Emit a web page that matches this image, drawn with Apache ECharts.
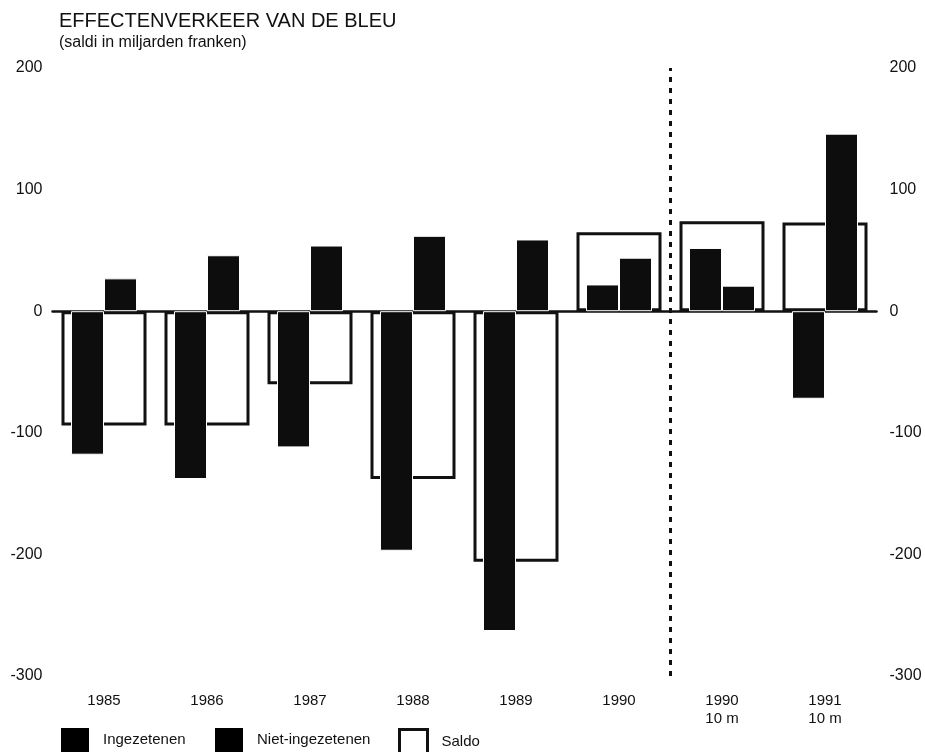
<!DOCTYPE html>
<html>
<head>
<meta charset="utf-8">
<script src="https://cdn.jsdelivr.net/npm/echarts@6/dist/echarts.min.js"></script>
<style>
  html, body { margin: 0; padding: 0; background: #fff; }
  #chart { width: 925px; height: 752px; }
</style>
</head>
<body>
<div id="chart"></div>
<script>
const categories = ["1985", "1986", "1987", "1988", "1989", "1990", "1990\n10 m", "1991\n10 m"];
const ingezetenen = [-118, -138, -112, -197, -263, 22, 52, -72];
const nietIngezetenen = [27, 46, 54, 62, 59, 44, 21, 146];
const saldo = [-94, -94, -60, -138, -206, 65, 74, 73];
const yMin = -300;
const yMax = 200;
const yStep = 100;
// the dotted divider sits on the boundary before "1990 10 m"
const dividerAt = 6;

const font = "'Liberation Sans', Arial, Helvetica, sans-serif";
const ink = "#111";

let myChart = echarts.init(document.getElementById("chart"));
let option;

const yAxisBase = {
  type: "value",
  min: yMin,
  max: yMax,
  interval: yStep,
  splitLine: { show: false },
  axisTick: { show: false },
  axisLine: { show: false, onZero: false },
};

option = {
  backgroundColor: "#fff",
  animation: false,
  title: {
    text: "EFFECTENVERKEER VAN DE BLEU",
    subtext: "(saldi in miljarden franken)",
    left: 59,
    top: 11,
    itemGap: 4,
    padding: 0,
    textStyle: { fontFamily: font, fontSize: 20, fontWeight: "normal", color: ink },
    subtextStyle: { fontFamily: font, fontSize: 16, color: ink },
  },
  legend: [
    { name: "Ingezetenen", left: 61 },
    { name: "Niet-ingezetenen", left: 215 },
    { name: "Saldo", left: 398 },
  ].map((l) => ({
    data: [l.name],
    left: l.left,
    top: 728,
    padding: 0,
    icon: "rect",
    itemWidth: 28,
    itemHeight: 24,
    itemStyle: l.name === "Saldo" ? { borderWidth: 3 } : undefined,
    textStyle: { fontFamily: font, fontSize: 15, color: ink, padding: [2, 0, 0, 9] },
  })),
  grid: { left: 52.5, right: 48.5, top: 68, bottom: 76 },
  xAxis: [
    {
      type: "category",
      data: categories,
      position: "bottom",
      axisLine: { show: false, onZero: false },
      axisTick: { show: false },
      axisLabel: {
        fontFamily: font,
        fontSize: 15,
        color: ink,
        margin: 16,
        lineHeight: 18,
      },
    },
    {
      type: "category",
      data: categories,
      position: "bottom",
      axisLine: { show: true, onZero: true, lineStyle: { color: ink, width: 2.5 } },
      axisTick: { show: false },
      axisLabel: { show: false },
    },
    {
      type: "value",
      min: 0,
      max: categories.length,
      position: "top",
      show: false,
      axisLine: { onZero: false },
    },
  ],
  yAxis: [
    Object.assign({}, yAxisBase, {
      position: "left",
      axisLabel: { fontFamily: font, fontSize: 16, color: ink, margin: 10 },
    }),
    Object.assign({}, yAxisBase, {
      position: "right",
      axisLabel: { fontFamily: font, fontSize: 16, color: ink, margin: 13 },
    }),
  ],
  series: [
    {
      name: "Saldo",
      type: "bar",
      xAxisIndex: 1,
      yAxisIndex: 0,
      data: saldo,
      barWidth: 85,
      itemStyle: { color: "#fff", borderColor: ink, borderWidth: 3 },
    },
    {
      name: "Ingezetenen",
      type: "bar",
      xAxisIndex: 0,
      yAxisIndex: 0,
      data: ingezetenen,
      barWidth: 33,
      barGap: 0,
      itemStyle: { color: "#0d0d0d", borderColor: "#fff", borderWidth: 1 },
    },
    {
      name: "Niet-ingezetenen",
      type: "bar",
      xAxisIndex: 0,
      yAxisIndex: 0,
      data: nietIngezetenen,
      barWidth: 33,
      barGap: 0,
      itemStyle: { color: "#0d0d0d", borderColor: "#fff", borderWidth: 1 },
    },
    {
      name: "divider",
      type: "line",
      xAxisIndex: 2,
      yAxisIndex: 0,
      data: [],
      silent: true,
      markLine: {
        silent: true,
        symbol: "none",
        label: { show: false },
        lineStyle: { color: ink, width: 3, type: [5, 6] },
        data: [{ xAxis: dividerAt }],
      },
    },
  ],
};

option && myChart.setOption(option);
</script>
</body>
</html>
